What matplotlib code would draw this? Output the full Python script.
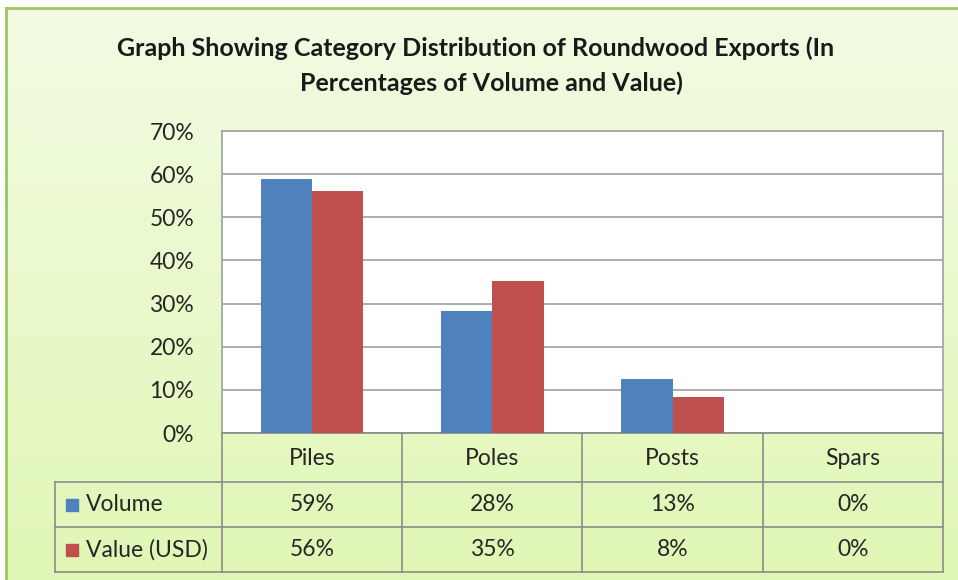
import numpy as np
import matplotlib.pyplot as plt
from matplotlib.patches import Rectangle

# data
categories = ["Piles", "Poles", "Posts", "Spars"]
series_names = ["Volume", "Value (USD)"]
volume = [0.588, 0.282, 0.126, 0.0]
value_usd = [0.562, 0.353, 0.083, 0.0]
y_ticks = [0, 0.1, 0.2, 0.3, 0.4, 0.5, 0.6, 0.7]
colors = ["#4f81bd", "#c0504d"]

W, H = 958, 580
plt.rcParams['font.family'] = ['Lato', 'DejaVu Sans']
txt_c = "#262626"
fs = 16.5

fig = plt.figure(figsize=(W / 100, H / 100), dpi=100, facecolor='white')

# background layer in pixel coordinates
bg = fig.add_axes([0, 0, 1, 1])
bg.set_xlim(0, W)
bg.set_ylim(H, 0)
bg.axis('off')
grad = np.linspace(0, 1, 256).reshape(-1, 1)
top = np.array([0.95, 0.985, 0.89])
bot = np.array([0.88, 0.97, 0.71])
img = top + (bot - top) * grad[..., None]
bg.imshow(img, extent=[6, W, H, 8], aspect='auto', zorder=0)
bg.plot([6, 6], [8, H], color="#9fc462", lw=2, zorder=1)
bg.plot([6, W], [8, 8], color="#9fc462", lw=2, zorder=1)

# title
bg.text(476, 48, "Graph Showing Category Distribution of Roundwood Exports (In",
        ha='center', va='center', fontsize=18, fontweight='bold', color="#1a1a1a")
bg.text(491, 83, "Percentages of Volume and Value)",
        ha='center', va='center', fontsize=18, fontweight='bold', color="#1a1a1a")

# plot area
x0, x1, y0, y1 = 222, 943, 131, 433
ax = fig.add_axes([x0 / W, 1 - y1 / H, (x1 - x0) / W, (y1 - y0) / H])
ax.set_facecolor('white')
n = len(categories)
x = np.arange(n)
bw = 0.285
ax.bar(x - bw / 2, volume, bw, color=colors[0], zorder=3)
ax.bar(x + bw / 2, value_usd, bw, color=colors[1], zorder=3)
ax.set_xlim(-0.5, n - 0.5)
ax.set_ylim(0, 0.7)
ax.set_yticks(y_ticks)
ax.set_yticklabels([f"{int(round(t * 100))}%" for t in y_ticks], fontsize=fs, color=txt_c)
ax.tick_params(axis='y', length=0, pad=20)
ax.set_xticks([])
ax.grid(axis='y', color="#a6a6a6", lw=1.3, zorder=1)
for s in ax.spines.values():
    s.set_color("#a6a6a6")
    s.set_linewidth(1.3)
ax.spines['bottom'].set_color("#8c8c8c")

# data table below the plot
line_c = "#8c8c8c"
col_w = (x1 - x0) / n
row_edges = [433, 482, 527, 572]
leg_x = 55
for r in row_edges[1:]:
    bg.plot([leg_x, x1], [r, r], color=line_c, lw=1.2, zorder=2)
bg.plot([leg_x, leg_x], [row_edges[1], row_edges[3]], color=line_c, lw=1.2, zorder=2)
for i in range(n + 1):
    xi = x0 + i * col_w
    bg.plot([xi, xi], [row_edges[0], row_edges[3]], color=line_c, lw=1.2, zorder=2)

for i, c in enumerate(categories):
    bg.text(x0 + (i + 0.5) * col_w, (row_edges[0] + row_edges[1]) / 2 + 1, c,
            ha='center', va='center', fontsize=fs, color=txt_c)

for j, (name, vals) in enumerate(zip(series_names, [volume, value_usd])):
    yc = (row_edges[j + 1] + row_edges[j + 2]) / 2
    bg.add_patch(Rectangle((66, yc - 6), 12, 12, color=colors[j], zorder=3))
    bg.text(86, yc, name, ha='left', va='center', fontsize=fs, color=txt_c)
    for i, v in enumerate(vals):
        bg.text(x0 + (i + 0.5) * col_w, yc, f"{int(round(v * 100))}%",
                ha='center', va='center', fontsize=fs, color=txt_c)

fig.savefig("out.png", dpi=100, facecolor='white')
